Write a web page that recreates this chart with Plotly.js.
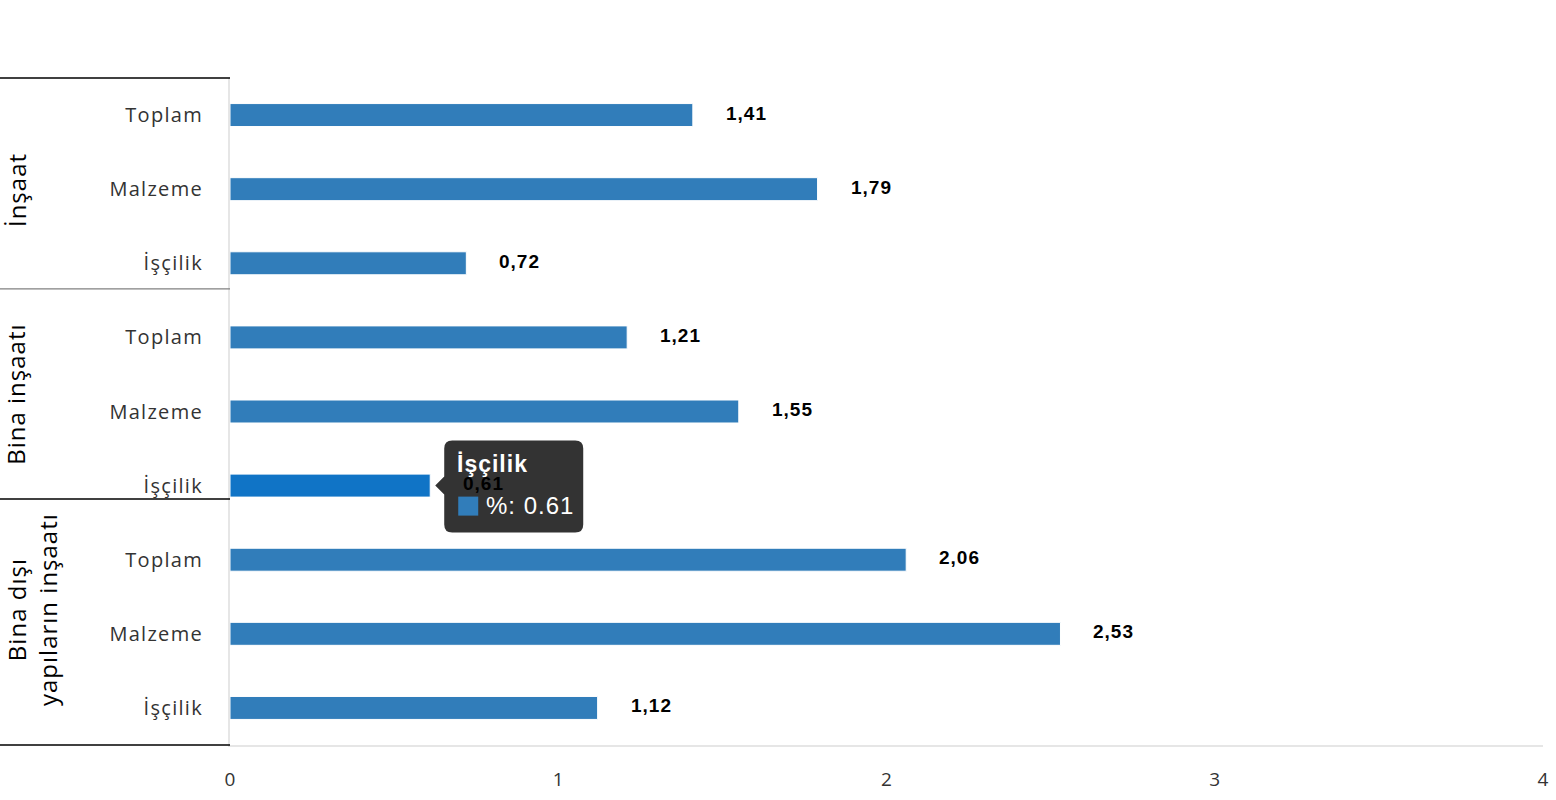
<!DOCTYPE html>
<html>
<head>
<meta charset="utf-8">
<script src="https://cdn.plot.ly/plotly-3.0.1.min.js"></script>
<style>
html,body{margin:0;padding:0;background:#fff;}
#chart{width:1556px;height:800px;}
.ytick text{letter-spacing:1.3px;}
.annotation-text{letter-spacing:1px;}
</style>
</head>
<body>
<div id="chart"></div>
<script>
// ---- data ----
const groups = ["İnşaat", "Bina inşaatı", "Bina dışı<br>yapıların inşaatı"];
const subCategories = ["Toplam", "Malzeme", "İşçilik"];
const insaat = [1.41, 1.79, 0.72];
const binaInsaati = [1.21, 1.55, 0.61];
const binaDisi = [2.06, 2.53, 1.12];
const xTicks = [0, 1, 2, 3, 4];
const seriesName = "%";

// ---- build ----
const groupValues = [insaat, binaInsaati, binaDisi];
const yKeys = [], yText = [], xVals = [];
groups.forEach((g, gi) => {
  subCategories.forEach((s, si) => {
    yKeys.push(gi + "|" + s);
    yText.push(s);
    xVals.push(groupValues[gi][si]);
  });
});
const hoverIndex = 5;
const baseColor = "#317dba";
const hoverColor = "#1074c6";
const colors = xVals.map((v, i) => i === hoverIndex ? hoverColor : baseColor);

const trace = {
  type: "bar",
  orientation: "h",
  x: xVals,
  y: yKeys,
  width: 0.31,
  marker: {color: colors, line: {color: "#ffffff", width: 1}},
  hoverinfo: "skip",
  name: seriesName
};

const annotations = [];
const shapes = [];

// tooltip (drawn relative to the hovered bar end)
const hx = xVals[hoverIndex], hy = yKeys[hoverIndex];
shapes.push({
  type: "path", xref: "x", yref: "y", xsizemode: "pixel", ysizemode: "pixel",
  xanchor: hx, yanchor: hy, layer: "above",
  path: "M 5,0 L 14,9 L 14,37 Q 14,45 22,45 L 145,45 Q 153,45 153,37 L 153,-39 Q 153,-47 145,-47 L 22,-47 Q 14,-47 14,-39 L 14,-9 Z",
  fillcolor: "rgba(51,51,51,1)", line: {width: 0}
});
shapes.push({
  type: "rect", xref: "x", yref: "y", xsizemode: "pixel", ysizemode: "pixel",
  xanchor: hx, yanchor: hy, layer: "above",
  x0: 28, x1: 48, y0: -11, y1: -30,
  fillcolor: baseColor, line: {width: 0}
});
annotations.push({
  xref: "x", yref: "y", x: hx, y: hy, xanchor: "left", yanchor: "middle",
  xshift: 25, yshift: 22, showarrow: false,
  text: "<b>" + yText[hoverIndex] + "</b>",
  font: {family: "Liberation Sans, Arial, sans-serif", size: 23, color: "#ffffff"}
});
annotations.push({
  xref: "x", yref: "y", x: hx, y: hy, xanchor: "left", yanchor: "middle",
  xshift: 54, yshift: -20, showarrow: false,
  text: seriesName + ": " + hx,
  font: {family: "Liberation Sans, Arial, sans-serif", size: 24, color: "#ffffff"}
});

// data labels
xVals.forEach((v, i) => {
  annotations.push({
    xref: "x", yref: "y", x: v, y: yKeys[i], xanchor: "left", yanchor: "middle",
    xshift: 31, yshift: 2, showarrow: false,
    text: "<b>" + v.toFixed(2).replace(".", ",") + "</b>",
    font: {family: "Liberation Sans, Arial, sans-serif", size: 19, color: "#000000"}
  });
});

// group labels
const groupPos = [[-214, 0.832], [-214, 0.525], [-198, 0.2024]];
groups.forEach((g, gi) => {
  annotations.push({
    xref: "paper", yref: "paper", x: 0, y: groupPos[gi][1], xshift: groupPos[gi][0],
    xanchor: "center", yanchor: "middle", textangle: -90, showarrow: false,
    text: g,
    font: {family: "Open Sans, sans-serif", size: 24, color: "#000000"}
  });
});

// group separator lines
const sepY = [1, 0.6837, 0.3688, 0];
const sepColor = ["#000000", "#808080", "#000000", "#000000"];
sepY.forEach((yy, i) => {
  shapes.push({
    type: "line", xref: "paper", yref: "paper", x0: -230 / 1313, x1: 0, y0: yy, y1: yy,
    line: {color: sepColor[i], width: 1.3}
  });
});

const layout = {
  width: 1556, height: 800,
  margin: {l: 230, r: 13, t: 78, b: 55, pad: 0},
  paper_bgcolor: "#ffffff", plot_bgcolor: "#ffffff",
  showlegend: false,
  bargap: 0.69,
  xaxis: {
    range: [0, 4], tickvals: xTicks, ticktext: xTicks.map(String),
    showgrid: false, zeroline: false,
    showline: true, linecolor: "#e6e6e6", linewidth: 2,
    ticks: "", ticklabelstandoff: 16,
    tickfont: {family: "Open Sans, sans-serif", size: 19, color: "#333333"},
    fixedrange: true
  },
  yaxis: {
    type: "category", categoryorder: "array", categoryarray: yKeys,
    range: [yKeys.length - 0.5, -0.5],
    tickmode: "array", tickvals: yKeys, ticktext: yText,
    showgrid: false, zeroline: false,
    showline: true, linecolor: "#e6e6e6", linewidth: 2,
    ticks: "", ticklabelstandoff: 21,
    tickfont: {family: "Open Sans, sans-serif", size: 20, color: "#333333", weight: 500},
    fixedrange: true
  },
  annotations: annotations,
  shapes: shapes
};

Plotly.newPlot("chart", [trace], layout, {displayModeBar: false, staticPlot: true});
</script>
</body>
</html>
